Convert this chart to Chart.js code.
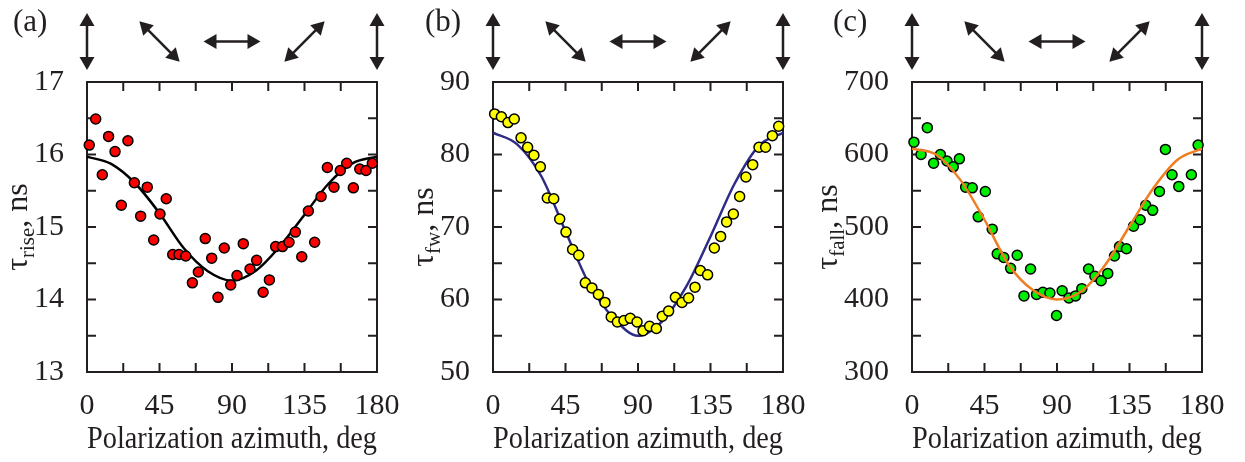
<!DOCTYPE html>
<html lang="en">
<head>
  <meta charset="UTF-8" />
  <title>Polarization dependence of rise, FWHM and fall times</title>
  <script src="https://cdn.jsdelivr.net/npm/chart.js"></script>
  <style>
    * { margin: 0; padding: 0; }
    body { background: #fff; width: 1245px; height: 462px; position: relative; overflow: hidden; }
    canvas { position: absolute; top: 0; }
  </style>
</head>
<body>
  <canvas id="rise-chart" width="400" height="462" style="left:0"></canvas>
  <canvas id="fw-chart" width="420" height="462" style="left:400px"></canvas>
  <canvas id="fall-chart" width="425" height="462" style="left:820px"></canvas>

  <script>
    const INK = '#231f20';
    const FONT = 'Liberation Serif';

    // polarization directions shown above each panel
    const arrowAngles = [0, 45, 90, 135, 180];

    // fitted curves are sampled every 15 deg
    const fitAngle = [0, 15, 30, 45, 60, 75, 90, 105, 120, 135, 150, 165, 180];

    // (a) rise time, ns
    const riseAngle = [1.4, 5.4, 9.5, 13.4, 17.4, 21.3, 25.4, 29.4, 33.3, 37.4, 41.4, 45.3, 49.2, 53.2, 57.1,
      61.3, 65.4, 69.1, 73.4, 77.4, 81.3, 85.2, 89.2, 93.1, 97.0, 101.2, 105.3, 109.3, 113.2, 117.1,
      121.3, 125.4, 129.3, 133.3, 137.4, 141.3, 145.3, 149.2, 153.3, 157.2, 161.2, 165.3, 169.3, 173.2, 177.1];
    const riseValue = [16.13, 16.49, 15.72, 16.25, 16.04, 15.30, 16.19, 15.61, 15.15, 15.55, 14.82, 15.18, 15.39, 14.62, 14.62,
      14.60, 14.23, 14.38, 14.84, 14.57, 14.03, 14.71, 14.20, 14.33, 14.77, 14.42, 14.54, 14.10, 14.27, 14.73,
      14.73, 14.79, 14.93, 14.59, 15.22, 14.79, 15.42, 15.82, 15.55, 15.78, 15.88, 15.54, 15.80, 15.78, 15.88];
    const riseFit = [15.97, 15.87, 15.60, 15.19, 14.71, 14.39, 14.26, 14.40, 14.74, 15.17, 15.60, 15.88, 15.97];

    // (b) FWHM duration, ns
    const fwAngle = [1.0, 5.2, 9.3, 13.2, 17.4, 21.5, 25.4, 29.4, 33.7, 37.7, 41.4, 45.3, 49.4, 53.2, 57.3,
      61.4, 65.4, 69.5, 73.4, 77.2, 81.3, 85.2, 89.4, 93.1, 97.2, 101.4, 105.1, 109.0, 113.2, 117.3,
      121.4, 125.4, 128.7, 133.2, 137.4, 141.3, 145.0, 149.2, 153.1, 157.0, 161.2, 165.1, 169.2, 173.4, 177.3];
    const fwValue = [85.6, 85.2, 84.4, 84.9, 82.3, 81.0, 79.9, 78.3, 74.0, 73.9, 71.1, 69.3, 66.9, 66.1, 62.3,
      61.6, 60.7, 59.6, 57.6, 56.9, 57.1, 57.4, 56.9, 55.7, 56.3, 56.0, 57.7, 58.4, 60.3, 59.6,
      60.2, 61.7, 64.0, 63.4, 67.1, 68.7, 70.7, 71.8, 74.2, 76.9, 78.6, 81.0, 81.0, 82.6, 83.9];
    const fwFit = [83.0, 81.4, 77.0, 69.4, 62.0, 57.4, 55.0, 57.0, 61.8, 68.7, 76.0, 81.2, 83.0];

    // (c) fall time, ns
    const fallAngle = [1.2, 5.6, 9.5, 13.4, 17.6, 21.7, 25.6, 29.4, 33.3, 37.4, 41.1, 45.5, 49.8, 52.9, 57.0,
      61.2, 65.3, 69.5, 73.6, 77.3, 81.2, 85.6, 89.7, 93.2, 97.4, 101.5, 105.4, 109.6, 113.5, 117.4,
      121.5, 125.7, 128.8, 133.1, 137.5, 141.6, 145.1, 149.4, 153.6, 157.3, 161.4, 165.6, 173.4, 177.6];
    const fallValue = [617, 600, 637, 588, 600, 591, 583, 594, 555, 554, 514, 549, 497, 463, 458,
      443, 461, 405, 442, 407, 410, 409, 378, 412, 402, 405, 415, 442, 432, 426,
      436, 460, 473, 470, 501, 510, 530, 523, 549, 607, 572, 556, 572, 613];
    const fallFit = [608, 600, 565, 510, 448, 413, 400, 411, 448, 501, 554, 593, 608];

    const TICK = 9;

    function drawArrow(ctx, x1, y1, x2, y2) {
      const ang = Math.atan2(y2 - y1, x2 - x1);
      const head = 13, half = 7.5;
      const ux = Math.cos(ang), uy = Math.sin(ang);
      ctx.beginPath();
      ctx.moveTo(x1 + ux * head * 0.8, y1 + uy * head * 0.8);
      ctx.lineTo(x2 - ux * head * 0.8, y2 - uy * head * 0.8);
      ctx.stroke();
      [[x2, y2, 1], [x1, y1, -1]].forEach(([px, py, s]) => {
        const bx = px - s * ux * head, by = py - s * uy * head;
        ctx.beginPath();
        ctx.moveTo(px, py);
        ctx.lineTo(bx - uy * half, by + ux * half);
        ctx.lineTo(bx + uy * half, by - ux * half);
        ctx.closePath();
        ctx.fill();
      });
    }

    // frame with inward ticks, y title with subscript, panel letter, polarization arrows
    const decor = {
      id: 'decor',
      beforeDatasetsDraw(chart, args, opts) {
        const { ctx, chartArea: a, scales: { x, y } } = chart;
        ctx.save();
        ctx.strokeStyle = INK;
        ctx.lineWidth = 2;
        ctx.strokeRect(a.left, a.top, a.width, a.height);
        ctx.beginPath();
        x.ticks.forEach(t => {
          const px = x.getPixelForValue(t.value);
          ctx.moveTo(px, a.bottom); ctx.lineTo(px, a.bottom - TICK);
          ctx.moveTo(px, a.top); ctx.lineTo(px, a.top + TICK);
        });
        y.ticks.forEach(t => {
          const py = y.getPixelForValue(t.value);
          ctx.moveTo(a.left, py); ctx.lineTo(a.left + TICK, py);
          ctx.moveTo(a.right, py); ctx.lineTo(a.right - TICK, py);
        });
        ctx.stroke();
        ctx.restore();
      },
      afterDraw(chart, args, opts) {
        const { ctx, chartArea: a, scales: { x } } = chart;
        ctx.save();
        ctx.fillStyle = INK;
        ctx.textBaseline = 'alphabetic';

        // panel letter
        ctx.font = `31px "${FONT}"`;
        ctx.textAlign = 'left';
        ctx.fillText(opts.letter, opts.letterX, 31);

        // y title: tau with subscript
        ctx.save();
        ctx.translate(opts.titleX, (a.top + a.bottom) / 2);
        ctx.rotate(-Math.PI / 2);
        ctx.font = `32px "${FONT}"`;
        const w1 = ctx.measureText('τ').width;
        const w3 = ctx.measureText(', ns').width;
        ctx.font = `21px "${FONT}"`;
        const w2 = ctx.measureText(opts.sub).width;
        let cx = -(w1 + w2 + w3) / 2;
        ctx.font = `32px "${FONT}"`;
        ctx.fillText('τ', cx, 0);
        ctx.font = `21px "${FONT}"`;
        ctx.fillText(opts.sub, cx + w1, 7);
        ctx.font = `32px "${FONT}"`;
        ctx.fillText(', ns', cx + w1 + w2, 0);
        ctx.restore();

        // polarization arrows
        ctx.strokeStyle = INK;
        ctx.lineWidth = 2.5;
        const L = 28.5, yc = 41.5;
        arrowAngles.forEach(deg => {
          const px = x.getPixelForValue(deg);
          const r = deg * Math.PI / 180;
          const dx = Math.sin(r) * L, dy = Math.cos(r) * L;
          drawArrow(ctx, px - dx, yc - dy, px + dx, yc + dy);
        });
        ctx.restore();
      }
    };

    function toPoints(xs, ys) {
      return xs.map((v, i) => ({ x: v, y: ys[i] }));
    }

    function makePanel(id, cfg) {
      const datasets = [
        {
          type: 'scatter',
          data: toPoints(cfg.angle, cfg.value),
          backgroundColor: cfg.dot,
          borderColor: '#000',
          borderWidth: 1.5,
          pointRadius: 5,
          clip: false
        },
        {
          type: 'line',
          data: toPoints(fitAngle, cfg.fit),
          borderColor: cfg.curve,
          borderWidth: 2.5,
          pointRadius: 0,
          fill: false,
          cubicInterpolationMode: 'monotone'
        }
      ];
      // later datasets are painted first, so swap when the curve sits on top
      if (cfg.curveOnTop) datasets.reverse();

      new Chart(document.getElementById(id), {
        type: 'scatter',
        data: { datasets },
        plugins: [decor],
        options: {
          responsive: false,
          animation: false,
          layout: { padding: { left: 0, right: cfg.padRight, top: 82, bottom: 0 } },
          plugins: {
            legend: { display: false },
            tooltip: { enabled: false },
            decor: { letter: cfg.letter, letterX: cfg.letterX, sub: cfg.sub, titleX: cfg.titleX }
          },
          scales: {
            x: {
              type: 'linear',
              min: 0, max: 180,
              grid: { display: false },
              border: { display: false },
              afterFit(s) { s.height = 90; s.paddingLeft = 0; s.paddingRight = 0; },
              ticks: {
                stepSize: 22.5,
                autoSkip: false,
                maxRotation: 0,
                padding: 8,
                color: INK,
                font: { family: FONT, size: 30 },
                callback: v => (v % 45 === 0 ? v : '')
              },
              title: {
                display: true,
                text: 'Polarization azimuth, deg',
                color: INK,
                font: { family: FONT, size: 32 },
                padding: { top: 0, bottom: 3 }
              }
            },
            y: {
              min: cfg.yMin, max: cfg.yMax,
              grid: { display: false },
              border: { display: false },
              afterFit(s) { s.width = cfg.axisWidth; },
              ticks: {
                stepSize: cfg.yStep,
                autoSkip: false,
                padding: 15,
                color: INK,
                font: { family: FONT, size: 30 },
                callback: v => (Math.abs(v / cfg.yLabelStep - Math.round(v / cfg.yLabelStep)) < 1e-6 ? v : '')
              }
            }
          }
        }
      });
    }

    Chart.defaults.font.family = FONT;

    makePanel('rise-chart', {
      angle: riseAngle, value: riseValue, fit: riseFit,
      dot: '#ff0000', curve: '#000000', curveOnTop: false,
      yMin: 13, yMax: 17, yStep: 0.5, yLabelStep: 1,
      axisWidth: 87, padRight: 23,
      letter: '(a)', letterX: 13, sub: 'rise', titleX: 27
    });

    makePanel('fw-chart', {
      angle: fwAngle, value: fwValue, fit: fwFit,
      dot: '#ffff00', curve: '#2e2c86', curveOnTop: false,
      yMin: 50, yMax: 90, yStep: 5, yLabelStep: 10,
      axisWidth: 93, padRight: 37,
      letter: '(b)', letterX: 25, sub: 'fw', titleX: 33
    });

    makePanel('fall-chart', {
      angle: fallAngle, value: fallValue, fit: fallFit,
      dot: '#00ee00', curve: '#ef7d22', curveOnTop: true,
      yMin: 300, yMax: 700, yStep: 50, yLabelStep: 100,
      axisWidth: 92, padRight: 43,
      letter: '(c)', letterX: 13, sub: 'fall', titleX: 17
    });
  </script>
</body>
</html>
